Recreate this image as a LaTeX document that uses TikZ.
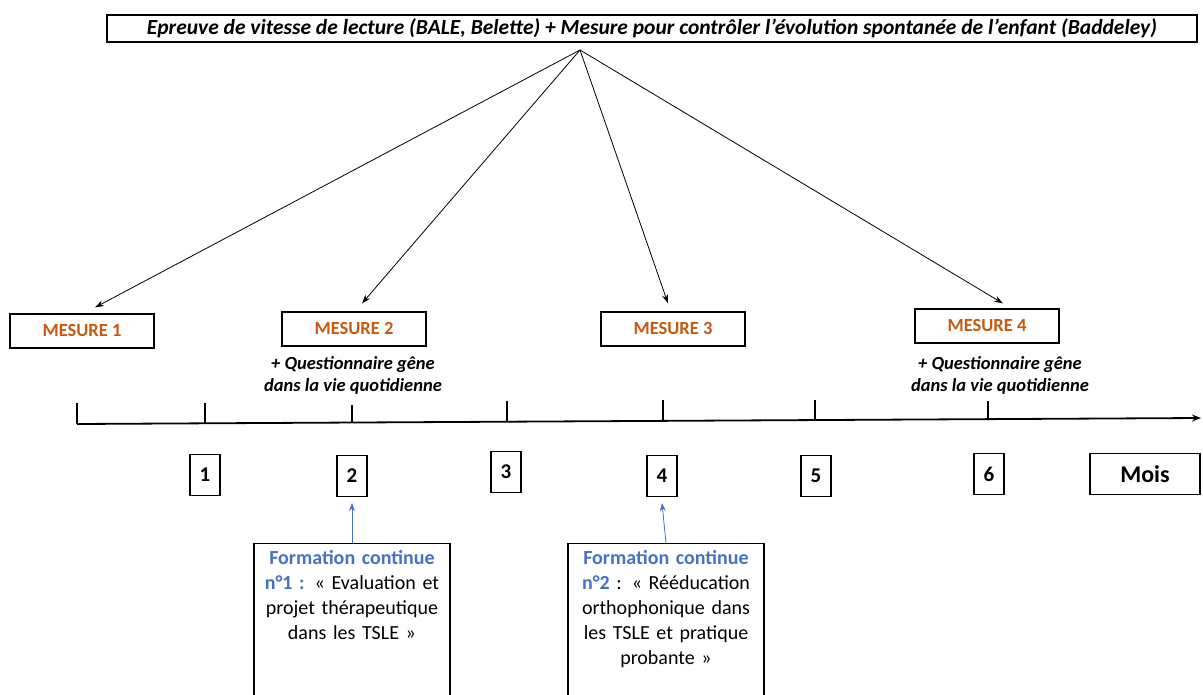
\documentclass[tikz,border=0pt]{standalone}
\usepackage{fontspec}
\setmainfont{Carlito}
\usetikzlibrary{arrows.meta}
\definecolor{mesorange}{RGB}{197,90,17}
\definecolor{formblue}{RGB}{68,114,196}

\begin{document}
\begin{tikzpicture}[x=1pt,y=-1pt,
  box/.style={draw, line width=1.1pt, inner sep=0pt},
  mesure/.style={box, minimum width=144pt, minimum height=34pt, text=mesorange, font=\fontsize{18.5}{22}\selectfont\bfseries},
  month/.style={box, minimum width=30pt, minimum height=41pt, font=\fontsize{21}{24}\selectfont\bfseries},
  quest/.style={align=center, font=\fontsize{18.5}{22}\selectfont\bfseries\itshape},
  formation/.style={box, anchor=north, minimum width=196pt, text width=192pt, align=center, inner ysep=7pt, text depth=150pt, font=\fontsize{20}{25}\selectfont},
  arr/.style={-{Stealth[length=9pt,width=6pt]}, line width=0.8pt}]
\useasboundingbox (0,0) rectangle (1203,695);

\node[box, minimum width=1090pt, minimum height=27pt, font=\fontsize{21.5}{24}\selectfont\bfseries\itshape] (title) at (652,28.5)
  {Epreuve de vitesse de lecture (BALE, Belette) + Mesure pour contrôler l’évolution spontanée de l’enfant (Baddeley)};
\coordinate (hub) at (580,50);

\node[mesure] (m1) at (82,331) {MESURE 1};
\node[mesure] (m2) at (354,329) {MESURE 2};
\node[mesure] (m3) at (673,329) {MESURE 3};
\node[mesure] (m4) at (987,326) {MESURE 4};

\draw[arr] (hub) -- ([xshift=13pt,yshift=6pt]m1.north);
\draw[arr] (hub) -- ([xshift=8pt,yshift=8pt]m2.north);
\draw[arr] (hub) -- ([xshift=-5pt,yshift=8pt]m3.north);
\draw[arr] (hub) -- ([xshift=16pt,yshift=5pt]m4.north);

\node[quest] (q2) at (353,375) {+ Questionnaire gêne\\dans la vie quotidienne};
\node[quest] (q4) at (1000,375) {+ Questionnaire gêne\\dans la vie quotidienne};

% axe du temps
\draw[line width=1.8pt, -{Stealth[length=9pt,width=7pt]}] (77,424) -- (1201,418);
\foreach \x/\ya/\yb in {77/403/424, 205/403/423.3, 352/405/422.5, 507/401/421.7, 663/400/420.9, 815/400/420, 988/401/419.1}
  \draw[line width=1.8pt] (\x,\ya) -- (\x,\yb);

\node[month] (n1) at (205,475) {1};
\node[month] (n2) at (352,476) {2};
\node[month] (n3) at (506,472) {3};
\node[month] (n4) at (662,476) {4};
\node[month] (n5) at (816,476) {5};
\node[month] (n6) at (989,474) {6};
\node[month, minimum width=110pt, font=\fontsize{24}{28}\selectfont\bfseries] (mois) at (1145,474) {Mois};

\node[formation] (f1) at (352,543)
  {\textcolor{formblue}{\bfseries Formation continue}\\\textcolor{formblue}{\bfseries n°1 :} « Evaluation et\\projet thérapeutique\\dans les TSLE »};
\node[formation] (f2) at (666,543)
  {\textcolor{formblue}{\bfseries Formation continue}\\\textcolor{formblue}{\bfseries n°2} : « Rééducation\\orthophonique dans\\les TSLE et pratique\\probante »};

\draw[formblue, line width=0.8pt, -{Stealth[length=8pt,width=6pt]}] (f1.north) -- ([yshift=-6pt]n2.south);
\draw[formblue, line width=0.8pt, -{Stealth[length=8pt,width=6pt]}] (f2.north) -- ([yshift=-6pt]n4.south);
\end{tikzpicture}
\end{document}
